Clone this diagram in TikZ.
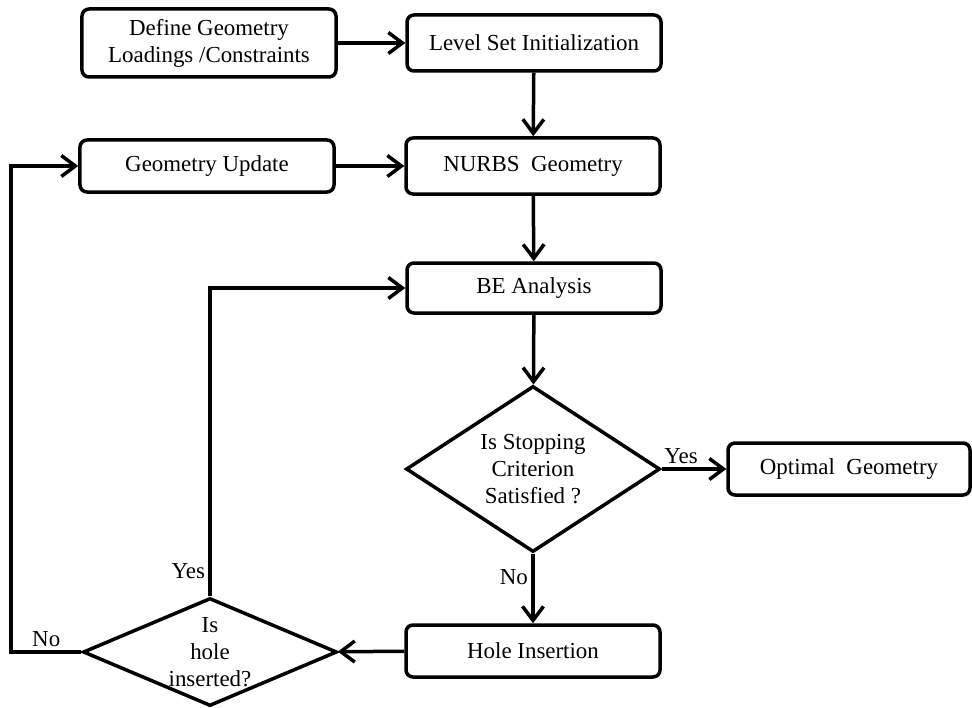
\documentclass[tikz,border=0pt]{standalone}
\usepackage{fontspec}
\setmainfont{Liberation Serif}
\usetikzlibrary{arrows.meta,shapes.geometric}

\begin{document}
\begin{tikzpicture}[x=1bp, y=-1bp, line width=3.5bp, >={Straight Barb[length=14bp,width=21bp]}, font=\fontsize{23}{27}\selectfont]
	\tikzstyle{block}=[draw, rectangle, rounded corners=7bp, minimum width=254bp, minimum height=52bp, align=center, inner sep=0pt]
	\tikzstyle{decision}=[draw, diamond, align=center, inner sep=0pt, minimum width=254bp]
	\useasboundingbox (0,0) rectangle (972,708);
	\node[block, minimum height=68bp]  (define) at (209,43)   {Define Geometry\\Loadings /Constraints};
	\node[block, minimum height=56bp]    (init) at (534,43)   {Level Set Initialization};
	\node[block]    (update) at (207,166)   {Geometry Update};
	\node[block, minimum height=56bp]    (nurbs) at (533,166)   {NURBS\ \ Geometry};
	\node[block, minimum height=50bp]    (be) at (534,288)   {BE Analysis};
	\node[decision, aspect=1.5, minimum height=166bp]    (stop) at (533,469)   {Is Stopping\\Criterion\\Satisfied ?};
	\node[block, minimum width=242bp]    (optimal) at (849,469)   {Optimal\ \ Geometry};
	\node[block]    (hole) at (533,651)   {Hole Insertion};
	\node[decision, aspect=2.35, inner sep=-6bp, minimum height=108bp]    (holeq) at (210,652)   {Is\\hole\\inserted?};
	\path[->]
	(define) edge (init)
	(init) edge (nurbs)
	(update) edge (nurbs)
	(nurbs) edge (be)
	(be) edge (stop)
	(stop) edge node[pos=0.3, above] {Yes} (optimal)
	(stop) edge node[pos=0.34, left] {No} (hole)
	(hole) edge (holeq);
	\draw[->] (holeq.north) -- node[pos=0.08, left] {Yes} (holeq.north |- be.west) -- (be.west);
	\draw[->] (holeq.west) -- node[above] {No} ++(-70,0) |- (update.west);
\end{tikzpicture}
\end{document}
